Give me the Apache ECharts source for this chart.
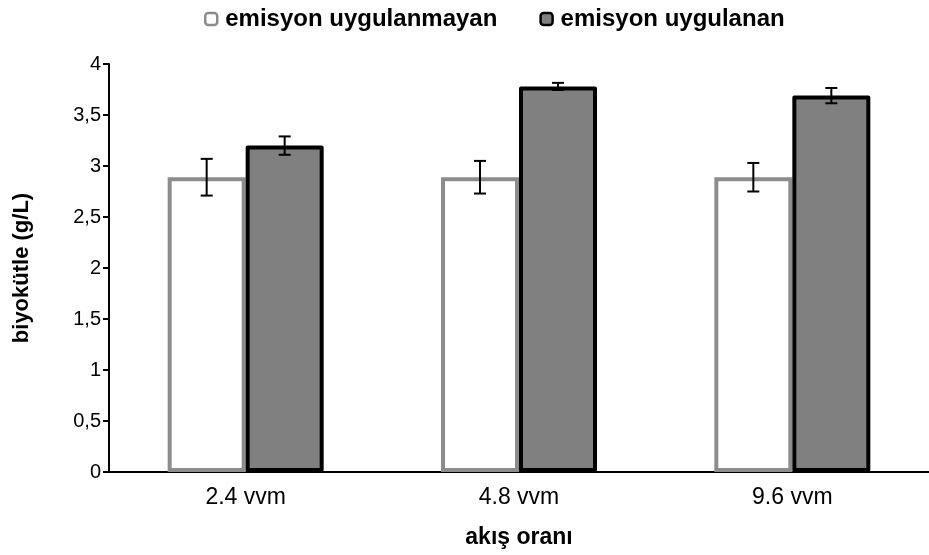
<!DOCTYPE html>
<html>
<head>
<meta charset="utf-8">
<script src="https://cdn.jsdelivr.net/npm/echarts@6/dist/echarts.min.js"></script>
<style>
  html, body { margin: 0; padding: 0; background: #fff; }
  #chart { width: 929px; height: 555px; }
</style>
</head>
<body>
<div id="chart"></div>
<script>
// Flow-rate categories and biomass measurements (g/L) with standard errors
var categories = ['2.4 vvm', '4.8 vvm', '9.6 vvm'];
var seriesNames = ['emisyon uygulanmayan', 'emisyon uygulanan'];
var uygulanmayan = [2.89, 2.89, 2.89];
var uygulanmayanErr = [0.18, 0.16, 0.14];
var uygulanan = [3.20, 3.78, 3.69];
var uygulananErr = [0.09, 0.035, 0.075];
var yTicks = [0, 0.5, 1, 1.5, 2, 2.5, 3, 3.5, 4];

var BAR_W = 78;
var FONT = '"Liberation Sans", Arial, sans-serif';

function errorSeries(values, errors, side) {
  return {
    type: 'custom',
    silent: true,
    z: 10,
    data: values.map(function (v, i) { return [i, v - errors[i], v + errors[i]]; }),
    renderItem: function (params, api) {
      var lo = api.coord([api.value(0), api.value(1)]);
      var hi = api.coord([api.value(0), api.value(2)]);
      var x = lo[0] + side * BAR_W / 2;
      var cap = 6;
      var style = { stroke: '#000', lineWidth: 2 };
      return {
        type: 'group',
        children: [
          { type: 'line', shape: { x1: x, y1: lo[1], x2: x, y2: hi[1] }, style: style },
          { type: 'line', shape: { x1: x - cap, y1: lo[1], x2: x + cap, y2: lo[1] }, style: style },
          { type: 'line', shape: { x1: x - cap, y1: hi[1], x2: x + cap, y2: hi[1] }, style: style }
        ]
      };
    }
  };
}

var chart = echarts.init(document.getElementById('chart'), null, { renderer: 'canvas' });
chart.setOption({
  animation: false,
  backgroundColor: '#fff',
  textStyle: { fontFamily: FONT },
  legend: {
    top: 2,
    left: 199,
    itemGap: 42,
    itemWidth: 12,
    itemHeight: 12,
    itemStyle: { borderWidth: 2.5 },
    textStyle: { fontFamily: FONT, fontSize: 24, fontWeight: 'bold', color: '#000', padding: [0, 0, 0, 3] },
    data: seriesNames
  },
  grid: { left: 109, width: 828, top: 64, bottom: 83, containLabel: false },
  xAxis: {
    type: 'category',
    data: categories,
    name: 'akış oranı',
    nameLocation: 'middle',
    nameGap: 54,
    nameTextStyle: { fontFamily: FONT, fontSize: 23, fontWeight: 'bold', color: '#000' },
    axisLine: { lineStyle: { color: '#000', width: 2 } },
    axisTick: { length: 6, lineStyle: { color: '#000', width: 2 } },
    axisLabel: { fontFamily: FONT, fontSize: 23, color: '#000', margin: 14 }
  },
  yAxis: {
    type: 'value',
    min: yTicks[0],
    max: yTicks[yTicks.length - 1],
    interval: 0.5,
    name: 'biyokütle (g/L)',
    nameLocation: 'middle',
    nameGap: 76,
    nameTextStyle: { fontFamily: FONT, fontSize: 22, fontWeight: 'bold', color: '#000' },
    splitLine: { show: false },
    axisLine: { show: true, lineStyle: { color: '#000', width: 2 } },
    axisTick: { show: true, length: 6, lineStyle: { color: '#000', width: 2 } },
    axisLabel: {
      fontFamily: FONT, fontSize: 20, color: '#000', margin: 8,
      formatter: function (v) { return String(v).replace('.', ','); }
    }
  },
  series: [
    {
      name: seriesNames[0],
      type: 'bar',
      data: uygulanmayan,
      barWidth: BAR_W,
      barGap: '0%',
      itemStyle: { color: '#fff', borderColor: '#8c8c8c', borderWidth: 4 }
    },
    {
      name: seriesNames[1],
      type: 'bar',
      data: uygulanan,
      barWidth: BAR_W,
      barGap: '0%',
      z: 3,
      itemStyle: { color: '#808080', borderColor: '#000', borderWidth: 4, borderJoin: 'round' }
    },
    errorSeries(uygulanmayan, uygulanmayanErr, -1),
    errorSeries(uygulanan, uygulananErr, 1)
  ]
});
</script>
</body>
</html>
